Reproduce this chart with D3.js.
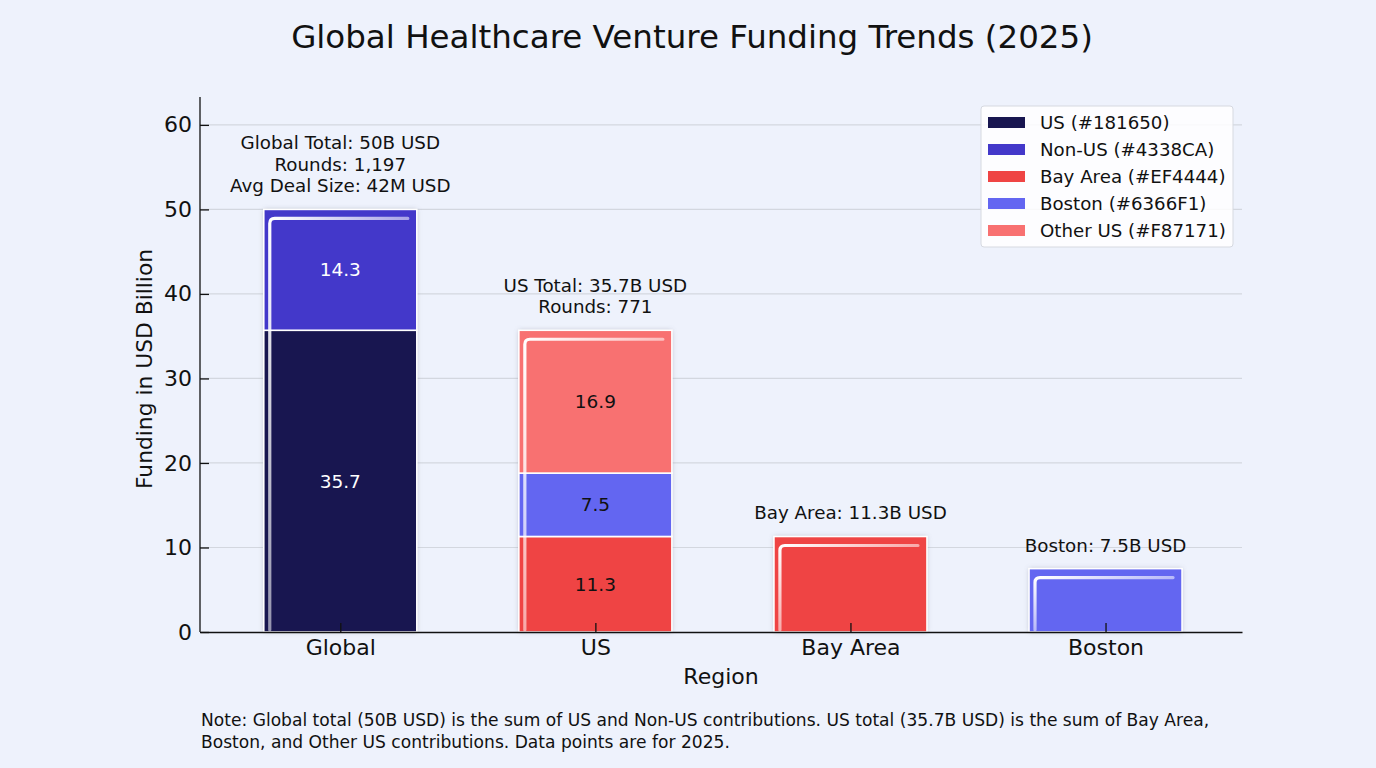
<!DOCTYPE html>
<html>
<head>
<meta charset="utf-8">
<script src="https://cdn.jsdelivr.net/npm/d3@7"></script>
<style>
  body { margin: 0; background: #eef2fc; }
  svg { font-family: "DejaVu Sans", sans-serif; display: block; }
</style>
</head>
<body>
<svg id="chart" width="1376" height="768"></svg>
<script>
// data
const regions = ["Global", "US", "Bay Area", "Boston"];
const seriesNames = ["US", "Non-US", "Bay Area", "Boston", "Other US"];
const seriesColors = ["#181650", "#4338CA", "#EF4444", "#6366F1", "#F87171"];
// stacked segments per region: [series index, value]
const globalParts = [[0, 35.7], [1, 14.3]];
const usParts = [[2, 11.3], [3, 7.5], [4, 16.9]];
const bayParts = [[2, 11.3]];
const bostonParts = [[3, 7.5]];
const annotations = [
  ["Global Total: 50B USD", "Rounds: 1,197", "Avg Deal Size: 42M USD"],
  ["US Total: 35.7B USD", "Rounds: 771"],
  ["Bay Area: 11.3B USD"],
  ["Boston: 7.5B USD"]
];
const showInner = [true, true, false, false];
const yTicks = [0, 10, 20, 30, 40, 50, 60];
const noteLines = [
  "Note: Global total (50B USD) is the sum of US and Non-US contributions. US total (35.7B USD) is the sum of Bay Area,",
  "Boston, and Other US contributions. Data points are for 2025."
];

const svg = d3.select("#chart"),
    margin = {left: 200, right: 1242, top: 97, bottom: 632},
    barWidth = 0.6;

const x = d3.scaleLinear().domain([-0.55, 3.535]).range([margin.left, margin.right]);
const y = d3.scaleLinear().domain([0, 63.3]).range([margin.bottom, margin.top]);
const bw = x(barWidth) - x(0);

// build stacks
const bars = [globalParts, usParts, bayParts, bostonParts].map(function(parts, i) {
  let acc = 0;
  const segs = parts.map(function(p) {
    const s = {region: i, series: p[0], value: p[1], y0: acc, y1: acc + p[1]};
    acc += p[1];
    return s;
  });
  return {region: i, name: regions[i], total: acc, segs: segs};
});

const defs = svg.append("defs");
const shadow = defs.append("filter").attr("id", "shadow")
    .attr("x", "-10%").attr("y", "-10%").attr("width", "120%").attr("height", "120%");
shadow.append("feDropShadow")
    .attr("dx", 0).attr("dy", 0).attr("stdDeviation", 2.5)
    .attr("flood-color", "#7a7f90").attr("flood-opacity", 0.45);

const shine = defs.append("linearGradient").attr("id", "shine")
    .attr("x1", "0%").attr("y1", "0%").attr("x2", "100%").attr("y2", "100%");
shine.append("stop").attr("offset", "0%").attr("stop-color", "#fff").attr("stop-opacity", 1);
shine.append("stop").attr("offset", "55%").attr("stop-color", "#fff").attr("stop-opacity", 0.5);
shine.append("stop").attr("offset", "100%").attr("stop-color", "#fff").attr("stop-opacity", 0.05);

const sideShine = defs.append("linearGradient").attr("id", "sideShine")
    .attr("x1", "0").attr("y1", "0").attr("x2", "0").attr("y2", "1");
sideShine.append("stop").attr("offset", "0%").attr("stop-color", "#fff").attr("stop-opacity", 0.4);
sideShine.append("stop").attr("offset", "100%").attr("stop-color", "#fff").attr("stop-opacity", 0.05);

// title
svg.append("text")
    .attr("x", 692).attr("y", 48)
    .attr("text-anchor", "middle")
    .style("font-size", "32.5px")
    .style("fill", "#111")
    .text("Global Healthcare Venture Funding Trends (2025)");

// grid
svg.append("g").attr("class", "grid")
  .selectAll("line")
    .data(yTicks.filter(function(d) { return d > 0; }))
  .enter().append("line")
    .attr("x1", margin.left).attr("x2", margin.right)
    .attr("y1", function(d) { return y(d); })
    .attr("y2", function(d) { return y(d); })
    .style("stroke", "#d3d7df")
    .style("stroke-width", 1.2);

// bars
const barG = svg.append("g").attr("class", "bars")
  .selectAll("g")
    .data(bars)
  .enter().append("g");

barG.append("rect")
    .attr("x", function(d) { return x(d.region) - bw / 2; })
    .attr("y", function(d) { return y(d.total); })
    .attr("width", bw)
    .attr("height", function(d) { return y(0) - y(d.total); })
    .style("fill", "#fff")
    .attr("filter", "url(#shadow)");

barG.selectAll("rect.seg")
    .data(function(d) { return d.segs; })
  .enter().append("rect")
    .attr("class", "seg")
    .attr("x", function(d) { return x(d.region) - bw / 2; })
    .attr("y", function(d) { return y(d.y1); })
    .attr("width", bw)
    .attr("height", function(d) { return y(d.y0) - y(d.y1); })
    .style("fill", function(d) { return seriesColors[d.series]; })
    .style("stroke", "#fff")
    .style("stroke-width", 1.6);

// glossy highlight
barG.append("path")
    .attr("d", function(d) {
      const l = x(d.region) - bw / 2 + 6, r = x(d.region) + bw / 2 - 9,
            t = y(d.total) + 9, b = y(0) - 2, rr = 5;
      return "M" + l + "," + b + "L" + l + "," + (t + rr) +
             "Q" + l + "," + t + " " + (l + rr) + "," + t + "L" + r + "," + t;
    })
    .style("fill", "none")
    .style("stroke", "url(#shine)")
    .style("stroke-width", 3.2)
    .style("stroke-linecap", "round");

barG.append("line")
    .attr("x1", function(d) { return x(d.region) + bw / 2 - 6; })
    .attr("x2", function(d) { return x(d.region) + bw / 2 - 6; })
    .attr("y1", function(d) { return y(d.total) + 14; })
    .attr("y2", function(d) { return y(0) - 2; })
    .style("stroke", "url(#sideShine)")
    .style("stroke-width", 2);

// segment labels
barG.filter(function(d) { return showInner[d.region]; })
  .selectAll("text.val")
    .data(function(d) { return d.segs; })
  .enter().append("text")
    .attr("class", "val")
    .attr("x", function(d) { return x(d.region); })
    .attr("y", function(d) { return y((d.y0 + d.y1) / 2); })
    .attr("dy", "0.36em")
    .attr("text-anchor", "middle")
    .style("font-size", "18.5px")
    .style("fill", function(d) { return d.series < 2 ? "#fff" : "#111"; })
    .text(function(d) { return d.value.toFixed(1); });

// annotations above bars
barG.append("text")
    .attr("text-anchor", "middle")
    .style("font-size", "18.3px")
    .style("fill", "#111")
  .selectAll("tspan")
    .data(function(d) {
      const lines = annotations[d.region];
      return lines.map(function(t, k) {
        return {text: t, x: x(d.region), y: y(d.total) - 17 - (lines.length - 1 - k) * 21.5};
      });
    })
  .enter().append("tspan")
    .attr("x", function(d) { return d.x; })
    .attr("y", function(d) { return d.y; })
    .text(function(d) { return d.text; });

// axes
const yAxis = svg.append("g")
    .attr("transform", "translate(" + margin.left + ",0)")
    .call(d3.axisLeft(y).tickValues(yTicks).tickSizeInner(-9).tickSizeOuter(0).tickPadding(8));
yAxis.select(".domain").attr("d", "M0," + margin.top + "V" + margin.bottom);

const xAxis = svg.append("g")
    .attr("transform", "translate(0," + margin.bottom + ")")
    .call(d3.axisBottom(x).tickValues([0, 1, 2, 3])
      .tickFormat(function(d) { return regions[d]; })
      .tickSizeInner(-9).tickSizeOuter(0).tickPadding(7));

[xAxis, yAxis].forEach(function(a) {
  a.selectAll("text").style("font-size", "22px").style("fill", "#111")
      .style("font-family", "DejaVu Sans, sans-serif");
  a.selectAll("line, path").style("stroke", "#111").style("stroke-width", 1.3);
});

svg.append("text")
    .attr("x", 721).attr("y", 684)
    .attr("text-anchor", "middle")
    .style("font-size", "22px").style("fill", "#111")
    .text("Region");

svg.append("text")
    .attr("transform", "translate(152,369) rotate(-90)")
    .attr("text-anchor", "middle")
    .style("font-size", "21.8px").style("fill", "#111")
    .text("Funding in USD Billion");

// legend
const legend = svg.append("g").attr("transform", "translate(981,106)");
legend.append("rect")
    .attr("width", 252).attr("height", 141).attr("rx", 3)
    .style("fill", "#fff").style("fill-opacity", 0.85)
    .style("stroke", "#d6d9e0");
const item = legend.selectAll("g.item")
    .data(seriesNames)
  .enter().append("g")
    .attr("class", "item")
    .attr("transform", function(d, i) { return "translate(0," + (16 + i * 27) + ")"; });
item.append("rect")
    .attr("x", 7).attr("y", -5).attr("width", 37).attr("height", 11)
    .style("fill", function(d, i) { return seriesColors[i]; });
item.append("text")
    .attr("x", 59).attr("dy", "0.36em")
    .style("font-size", "18.2px").style("fill", "#111")
    .text(function(d, i) { return d + " (" + seriesColors[i] + ")"; });

// note
svg.append("g").selectAll("text")
    .data(noteLines)
  .enter().append("text")
    .attr("x", 201)
    .attr("y", function(d, i) { return 726 + i * 22; })
    .style("font-size", "17.1px").style("fill", "#111")
    .text(function(d) { return d; });
</script>
</body>
</html>
